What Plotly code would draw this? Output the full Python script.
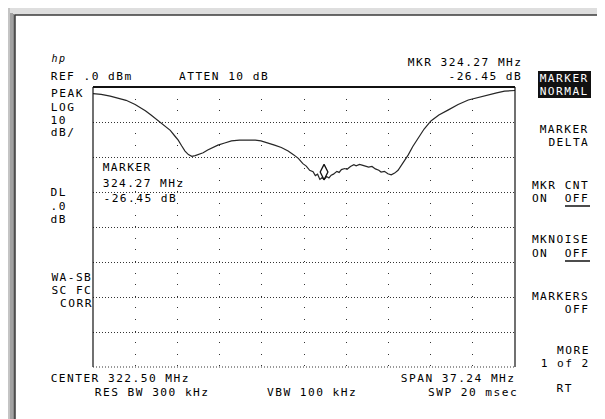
import re
import plotly.graph_objects as go

W, H = 605, 419

# instrument settings shown on screen
CENTER_MHZ = 322.50
SPAN_MHZ = 37.24
REF_DBM = 0.0
DB_PER_DIV = 10
MARKER_MHZ = 324.27
MARKER_DB = -26.45

# trace (MHz, dB)
FREQ = [303.88, 304.6, 305.4, 306.1, 306.8, 307.6, 308.1, 308.5, 309.0, 309.4,
        309.8, 310.2, 310.7, 311.1, 311.4, 311.7, 312.0, 312.3, 312.6, 312.9,
        313.2, 313.6, 314.0, 314.5, 314.9, 315.5, 316.1, 316.8, 317.6, 318.2,
        318.7, 319.3, 319.9, 320.5, 321.1, 321.6, 322.0, 322.4, 322.7, 323.0,
        323.3, 323.5, 323.7, 323.9, 324.1, 324.27, 324.5, 324.7, 324.9, 325.1,
        325.4, 325.6, 325.8, 326.1, 326.3, 326.6, 326.9, 327.1, 327.4, 327.7,
        328.0, 328.2, 328.5, 328.8, 329.1, 329.3, 329.6, 329.9, 330.2, 330.5,
        330.8, 331.0, 331.3, 331.7, 332.1, 332.6, 333.1, 333.7, 334.4, 335.2,
        336.1, 337.0, 337.9, 338.7, 339.5, 340.2, 340.8, 341.12]
LEVEL = [-1.9, -2.1, -2.6, -3.1, -3.8, -5.0, -5.9, -6.8, -8.0, -9.1,
         -10.1, -11.2, -12.4, -14.0, -15.2, -16.8, -18.3, -19.3, -19.8, -19.6,
         -19.3, -18.8, -18.0, -17.3, -16.6, -16.0, -15.4, -15.2, -15.1, -15.2,
         -15.4, -15.9, -16.6, -17.3, -18.3, -19.4, -20.4, -21.9, -22.6, -23.8,
         -24.2, -25.3, -24.9, -26.4, -25.9, -26.45, -25.6, -26.0, -25.2, -24.9,
         -24.1, -24.4, -23.6, -23.3, -23.5, -22.7, -22.2, -22.5, -22.1, -22.4,
         -22.6, -22.9, -22.7, -23.4, -23.8, -24.3, -24.1, -24.8, -25.1, -24.6,
         -23.8, -22.9, -21.3, -19.4, -17.0, -14.6, -12.0, -9.7, -8.0, -6.6,
         -5.0, -3.7, -2.9, -2.3, -1.7, -1.2, -1.0, -1.0]

LEFT_LABELS = [("PEAK", 85), ("LOG", 99), ("10", 112), ("dB/", 125),
               ("DL", 185), (".0", 198), ("dB", 211)]
CORR_LABELS = [("WA-SB", 269), ("SC FC", 282), ("CORR", 295)]
SOFTKEYS = [("MARKER", "DELTA", 121),
            ("MKR CNT", "ON  OFF", 177),
            ("MKNOISE", "ON  OFF", 232),
            ("MARKERS", "OFF", 288),
            ("MORE", "1 of 2", 342)]

FONT = "DejaVu Sans Mono"
FONT_SIZE = 11.2
LETTER_SPACING = 1.45  # the analyser's character cell is wider than any mono font
INK = "#000"


def px(x):
    return x / W


def py(y):
    return 1 - y / H


GX0, GX1, GY0, GY1 = 85, 507, 79, 359
MARKER_LIFT = 7.5  # the marker diamond stands on the trace point

x_lo = CENTER_MHZ - SPAN_MHZ / 2
x_hi = CENTER_MHZ + SPAN_MHZ / 2
y_lo = REF_DBM - 8 * DB_PER_DIV

fig = go.Figure()
fig.add_trace(go.Scatter(x=FREQ, y=LEVEL, mode="lines",
                         line=dict(color="#262626", width=1.2), hoverinfo="skip"))
fig.add_trace(go.Scatter(x=[MARKER_MHZ], y=[MARKER_DB], mode="markers",
                         xaxis="x2", yaxis="y2",
                         marker=dict(symbol="diamond-tall-open", size=11,
                                     color="#111", line=dict(width=1.3)),
                         hoverinfo="skip"))

fig.update_layout(
    width=W, height=H, margin=dict(l=0, r=0, t=0, b=0),
    paper_bgcolor="white", plot_bgcolor="rgba(0,0,0,0)", showlegend=False,
    xaxis=dict(domain=[px(GX0), px(GX1)], range=[x_lo, x_hi], anchor="y",
               tickvals=[x_lo + SPAN_MHZ / 10 * k for k in range(1, 10)],
               showticklabels=False, ticks="", zeroline=False,
               showgrid=True, gridcolor="#333", gridwidth=1, griddash="1px,10.6px",
               fixedrange=True),
    yaxis=dict(domain=[py(GY1), py(GY0)], range=[y_lo, REF_DBM], anchor="x",
               tickvals=[REF_DBM - DB_PER_DIV * k for k in range(1, 8)],
               showticklabels=False, ticks="", zeroline=False,
               showgrid=True, gridcolor="#333", gridwidth=1, griddash="1px,2px",
               fixedrange=True),
    xaxis2=dict(domain=[px(GX0), px(GX1)], range=[x_lo, x_hi], anchor="y2",
                visible=False, showgrid=False, fixedrange=True),
    yaxis2=dict(domain=[py(GY1 - MARKER_LIFT), py(GY0 - MARKER_LIFT)],
                range=[y_lo, REF_DBM], anchor="x2", visible=False, showgrid=False,
                fixedrange=True),
)

shapes = [
    # screen shadow and frame
    dict(type="rect", xref="paper", yref="paper", x0=0, x1=1, y0=py(7), y1=1,
         fillcolor="#dedede", line_width=0, layer="below"),
    dict(type="rect", xref="paper", yref="paper", x0=0, x1=px(2), y0=0, y1=1,
         fillcolor="#c4c4c4", line_width=0, layer="below"),
    dict(type="rect", xref="paper", yref="paper", x0=px(2), x1=px(5), y0=0, y1=py(5),
         fillcolor="#a2a2a2", line_width=0, layer="below"),
    dict(type="rect", xref="paper", yref="paper", x0=px(5), x1=px(7), y0=0, y1=py(6),
         fillcolor="#8c8c8c", line_width=0, layer="below"),
    dict(type="line", xref="paper", yref="paper", x0=px(7), x1=1, y0=py(7), y1=py(7),
         line=dict(color="#3a3a3a", width=1.5)),
    dict(type="line", xref="paper", yref="paper", x0=px(7), x1=px(7), y0=0, y1=py(7),
         line=dict(color="#3a3a3a", width=1.5)),
    # the analyser blanks the graticule behind the marker readout
    dict(type="rect", xref="paper", yref="paper", x0=px(91), x1=px(181),
         y0=py(198), y1=py(152), fillcolor="white", line_width=0, layer="between"),
    # graticule border
    dict(type="line", xref="paper", yref="paper", x0=px(GX0), x1=px(GX1),
         y0=py(GY0), y1=py(GY0), line=dict(color="#111", width=2)),
    dict(type="line", xref="paper", yref="paper", x0=px(GX0), x1=px(GX0),
         y0=py(GY1), y1=py(GY0), line=dict(color="#111", width=1.2)),
    dict(type="line", xref="paper", yref="paper", x0=px(GX1), x1=px(GX1),
         y0=py(GY1), y1=py(GY0), line=dict(color="#111", width=1.2)),
    dict(type="line", xref="paper", yref="paper", x0=px(GX0), x1=px(GX1),
         y0=py(GY1), y1=py(GY1), line=dict(color="#333", width=1, dash="1px,2px")),
    # MARKER NORMAL highlight
    dict(type="rect", xref="paper", yref="paper", x0=px(530), x1=px(583),
         y0=py(90), y1=py(63), fillcolor="#111", line_width=0),
    # OFF underlines
    dict(type="line", xref="paper", yref="paper", x0=px(557), x1=px(582),
         y0=py(198), y1=py(198), line=dict(color="#111", width=1.5)),
    dict(type="line", xref="paper", yref="paper", x0=px(557), x1=px(582),
         y0=py(253), y1=py(253), line=dict(color="#111", width=1.5)),
]
fig.update_layout(shapes=shapes)

ann = []


def label(text, x, y, anchor="left", color=INK, size=FONT_SIZE):
    # letter spacing is added after layout, so nudge the box to keep its anchored edge
    n = len(re.sub(r"<[^>]+>", "", text))
    shift = {"left": n / 2, "right": -(n / 2 - 1), "center": 0.5}[anchor] * LETTER_SPACING
    ann.append(dict(text=text, x=px(x), y=py(y), xref="paper", yref="paper",
                    xanchor=anchor, yanchor="middle", xshift=shift, showarrow=False,
                    borderpad=0, font=dict(family=FONT, size=size, color=color)))


label("<i>hp</i>", 43, 50, size=10)
label(f"MKR {MARKER_MHZ:.2f} MHz", 514, 54, "right")
label("REF .0 dBm", 42, 68)
label("ATTEN 10 dB", 170, 68)
label(f"{MARKER_DB:.2f} dB", 514, 68, "right")

for t, y in LEFT_LABELS:
    label(t, 42, y)
for t, y in CORR_LABELS:
    label(t, 84, y, "right")

label("MARKER", 94, 160)
label(f"{MARKER_MHZ:.2f} MHz", 94, 175)
label(f"{MARKER_DB:.2f} dB", 94, 190)

label("MARKER", 581, 70, "right", color="white")
label("NORMAL", 581, 83, "right", color="white")
for top, bottom, y in SOFTKEYS:
    label(top, 581, y, "right")
    label(bottom, 581, y + 13, "right")
label("RT", 556, 380, "center")

label(f"CENTER {CENTER_MHZ:.2f} MHz", 42, 370)
label(f"SPAN {SPAN_MHZ:.2f} MHz", 507, 370, "right")
label("RES BW 300 kHz", 86, 384)
label("VBW 100 kHz", 258, 384)
label("SWP 20 msec", 510, 384, "right")

fig.update_layout(annotations=ann)

SPACING_JS = """
var gd = document.getElementById('{plot_id}');
gd.querySelectorAll('text.annotation-text').forEach(function (t) {
    t.style.letterSpacing = '%.2fpx';
});
""" % LETTER_SPACING

fig.write_html("out.html", post_script=SPACING_JS)
